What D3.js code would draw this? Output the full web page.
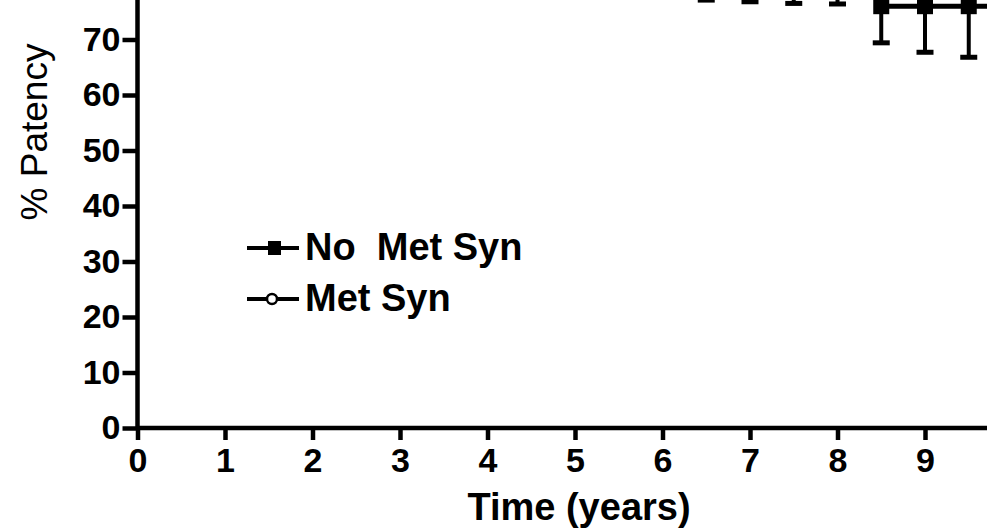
<!DOCTYPE html>
<html>
<head>
<meta charset="utf-8">
<script src="https://cdn.jsdelivr.net/npm/d3@7"></script>
<style>
    body { margin: 0; background: #fff; }
    svg { display: block; }
    .axis text { font-family: "Liberation Sans", Arial, sans-serif; font-weight: bold; font-size: 34px; fill: #000; }
    .axis path, .axis line { stroke: #000; stroke-width: 4.5px; }
    .axis-title { font-family: "Liberation Sans", Arial, sans-serif; fill: #000; }
    .legend text { font-family: "Liberation Sans", Arial, sans-serif; font-weight: bold; font-size: 38px; fill: #000; white-space: pre; }
</style>
</head>
<body>
<div id="chart"></div>
<script>

// Time points (years)
let times = [0, 0.5, 1, 1.5, 2, 2.5, 3, 3.5, 4, 4.5, 5, 5.5, 6, 6.5, 7, 7.5, 8, 8.5, 9, 9.5];
let followUpEnd = 10;

// % patency, no metabolic syndrome (values above 80 are off the visible crop, estimated)
let noMetSyn = [100, 99, 98, 97, 96, 95, 94, 93, 92, 91, 90, 89, 88, 83, 82.5, 82, 82, 76, 76, 76];
let noMetSynErr = [0, 0.8, 1.2, 1.6, 2, 2.3, 2.6, 2.9, 3.2, 3.5, 3.8, 4.1, 4.5, 5.9, 5.7, 5.5, 5.6, 6.6, 8.3, 9.2];

// % patency, metabolic syndrome (entirely above the visible crop, estimated)
let metSyn = [100, 100, 99, 99, 98, 98, 97, 97, 96, 96, 95, 95, 94, 94, 93, 93, 92, 92, 92, 92];
let metSynErr = [0, 0.5, 0.8, 1, 1.2, 1.4, 1.6, 1.8, 2, 2.2, 2.4, 2.6, 2.8, 3, 3.2, 3.4, 3.6, 3.8, 4, 4.2];

// tick labels that fall inside the visible crop
let xTicks = [0, 1, 2, 3, 4, 5, 6, 7, 8, 9];
let yTicks = [0, 10, 20, 30, 40, 50, 60, 70];

let legendLabels = ["No  Met Syn", "Met Syn"];

let width = 987, height = 529;

let svg = d3.select("#chart").append("svg")
    .attr("width", width)
    .attr("height", height);

// Scales (plot runs past the top and right edges of the crop)
let x = d3.scaleLinear().domain([0, 10]).range([137.5, 1012.5]);
let y = d3.scaleLinear().domain([0, 100]).range([428, -127]);

// Axes
let xAxis = d3.axisBottom(x).tickValues(xTicks).tickSize(12).tickSizeOuter(0).tickPadding(8);
let yAxis = d3.axisLeft(y).tickValues(yTicks).tickSize(15).tickSizeOuter(0).tickPadding(2);

svg.append("g")
    .attr("class", "axis x-axis")
    .attr("transform", "translate(0," + y(0) + ")")
    .call(xAxis);

svg.append("g")
    .attr("class", "axis y-axis")
    .attr("transform", "translate(" + x(0) + ",0)")
    .call(yAxis);

// keep the axis lines running to the edges of the crop
svg.select(".x-axis .domain").attr("d", "M" + x(0) + ",0H" + x(10));
svg.select(".y-axis .domain").attr("d", "M0," + y(0) + "V" + y(100));

// Axis titles
svg.append("text")
    .attr("class", "axis-title")
    .attr("text-anchor", "middle")
    .attr("x", 579)
    .attr("y", 520)
    .style("font-weight", "bold")
    .style("font-size", "38px")
    .text("Time (years)");

svg.append("text")
    .attr("class", "axis-title")
    .attr("text-anchor", "middle")
    .attr("transform", "translate(47,132) rotate(-90)")
    .style("font-size", "37px")
    .text("% Patency");

// Series
let series = [
    {values: noMetSyn, err: noMetSynErr, dir: -1, filled: true},
    {values: metSyn, err: metSynErr, dir: 1, filled: false}
];

let stepLine = d3.line()
    .x(d => x(d.t))
    .y(d => y(d.v))
    .curve(d3.curveStepAfter);

series.forEach(s => {
    let pts = times.map((t, i) => ({t: t, v: s.values[i], e: s.err[i]}));
    let linePts = pts.concat([{t: followUpEnd, v: s.values[s.values.length - 1]}]);

    svg.append("path")
        .attr("d", stepLine(linePts))
        .attr("fill", "none")
        .attr("stroke", "#000")
        .attr("stroke-width", 5);

    let g = svg.append("g");

    // error bars (one-sided)
    g.selectAll(".err")
        .data(pts.filter(d => d.e > 0))
        .enter().append("line")
        .attr("x1", d => x(d.t))
        .attr("x2", d => x(d.t))
        .attr("y1", d => y(d.v))
        .attr("y2", d => y(d.v + s.dir * d.e))
        .attr("stroke", "#000")
        .attr("stroke-width", 4);

    g.selectAll(".cap")
        .data(pts.filter(d => d.e > 0))
        .enter().append("line")
        .attr("x1", d => x(d.t) - 8.5)
        .attr("x2", d => x(d.t) + 8.5)
        .attr("y1", d => y(d.v + s.dir * d.e))
        .attr("y2", d => y(d.v + s.dir * d.e))
        .attr("stroke", "#000")
        .attr("stroke-width", 5);

    if (s.filled) {
        g.selectAll(".mark")
            .data(pts)
            .enter().append("rect")
            .attr("x", d => x(d.t) - 8)
            .attr("y", d => y(d.v) - 8)
            .attr("width", 16)
            .attr("height", 16)
            .attr("fill", "#000");
    } else {
        g.selectAll(".mark")
            .data(pts)
            .enter().append("circle")
            .attr("cx", d => x(d.t))
            .attr("cy", d => y(d.v))
            .attr("r", 6)
            .attr("fill", "#fff")
            .attr("stroke", "#000")
            .attr("stroke-width", 2.5);
    }
});

// Legend
let legend = svg.append("g").attr("class", "legend");

legendLabels.forEach((label, i) => {
    let ly = 248 + i * 51;
    legend.append("line")
        .attr("x1", 247).attr("x2", 299)
        .attr("y1", ly).attr("y2", ly)
        .attr("stroke", "#000")
        .attr("stroke-width", 4);
    if (i === 0) {
        legend.append("rect")
            .attr("x", 268).attr("y", ly - 7)
            .attr("width", 13).attr("height", 14)
            .attr("fill", "#000");
    } else {
        legend.append("circle")
            .attr("cx", 272).attr("cy", ly)
            .attr("r", 5)
            .attr("fill", "#fff")
            .attr("stroke", "#000")
            .attr("stroke-width", 2.5);
    }
    legend.append("text")
        .attr("x", 305)
        .attr("y", ly + 12)
        .text(label);
});

</script>
</body>
</html>
